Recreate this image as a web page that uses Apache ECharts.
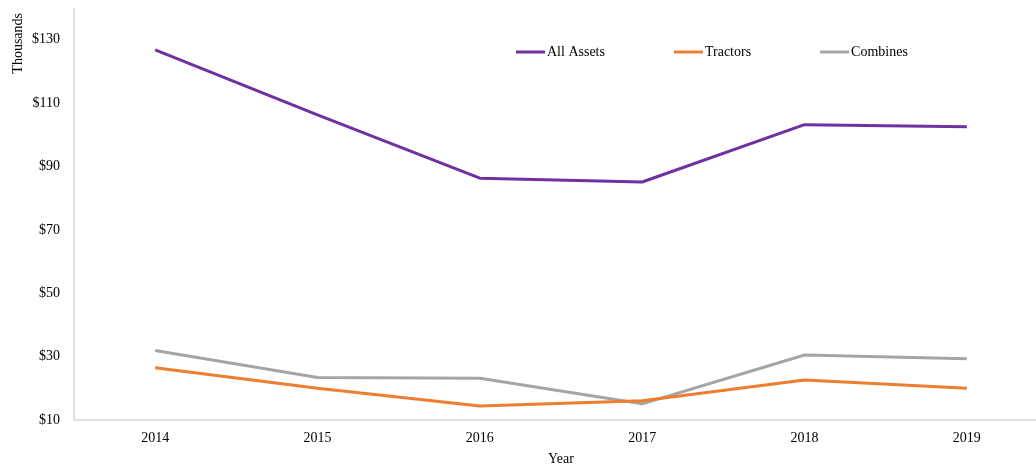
<!DOCTYPE html>
<html>
<head>
<meta charset="utf-8">
<script src="https://cdn.jsdelivr.net/npm/echarts@6/dist/echarts.min.js"></script>
<style>
  html, body { margin: 0; padding: 0; background: #fff; }
  #chart { width: 1036px; height: 466px; }
</style>
</head>
<body>
<div id="chart"></div>
<script>
// Years on the category axis
const years = ['2014', '2015', '2016', '2017', '2018', '2019'];
// Average values, thousands of dollars
const allAssets = [126.8, 106.3, 86.3, 85.1, 103.2, 102.5];
const tractors = [26.5, 20.0, 14.4, 16.1, 22.6, 20.0];
const combines = [31.9, 23.4, 23.2, 15.1, 30.5, 29.3];
const seriesNames = ['All Assets', 'Tractors', 'Combines'];
const seriesColors = ['#7030A0', '#ED7D31', '#A5A5A5'];

const serif = '"Liberation Serif", "Times New Roman", serif';
const chart = echarts.init(document.getElementById('chart'), null, { renderer: 'canvas' });

const dataSets = [allAssets, tractors, combines];

chart.setOption({
  animation: false,
  backgroundColor: '#ffffff',
  textStyle: { fontFamily: serif },
  grid: {
    left: 74, top: 8, width: 974, height: 412,
    containLabel: false,
    outerBoundsMode: 'none'
  },
  legend: {
    data: seriesNames.map((n) => ({ name: n, icon: 'rect' })),
    left: 516,
    top: 45,
    padding: 0,
    itemWidth: 29,
    itemHeight: 3,
    itemGap: 69,
    textStyle: { fontFamily: serif, fontSize: 14, color: '#000', padding: [0, 0, 0, -3] }
  },
  xAxis: {
    type: 'category',
    data: years,
    boundaryGap: true,
    name: 'Year',
    nameLocation: 'middle',
    nameGap: 32,
    nameTextStyle: { fontFamily: serif, fontSize: 14, color: '#000' },
    axisLine: { lineStyle: { color: '#D9D9D9', width: 1.5 } },
    axisTick: { show: false },
    axisLabel: { fontFamily: serif, fontSize: 14, color: '#000', margin: 11 },
    splitLine: { show: false }
  },
  yAxis: {
    type: 'value',
    min: 10,
    max: 140,
    interval: 20,
    axisLine: { show: true, lineStyle: { color: '#D9D9D9', width: 1.5 } },
    axisTick: { show: false },
    splitLine: { show: false },
    axisLabel: {
      fontFamily: serif, fontSize: 14, color: '#000', margin: 14,
      showMaxLabel: false,
      formatter: (v) => '$' + v
    }
  },
  graphic: [{
    type: 'text',
    left: 11,
    top: 13,
    rotation: Math.PI / 2,
    style: { text: 'Thousands', font: '14px ' + serif, fill: '#000' }
  }],
  series: dataSets.map((d, i) => ({
    name: seriesNames[i],
    type: 'line',
    data: d,
    symbol: 'none',
    color: seriesColors[i],
    lineStyle: { width: 3, color: seriesColors[i] },
    z: 3 - i
  }))
});
</script>
</body>
</html>
